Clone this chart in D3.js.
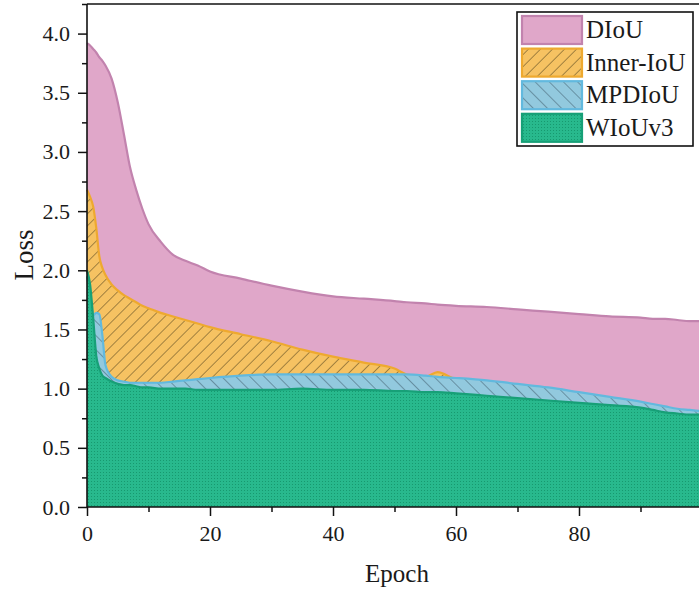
<!DOCTYPE html>
<html><head><meta charset="utf-8">
<script src="https://cdn.jsdelivr.net/npm/d3@7/dist/d3.min.js"></script>
<style>body{margin:0;background:#fff}svg{display:block}</style>
</head><body>
<svg id="c" width="699" height="592"></svg>
<script>
const epochs = [0,0.5,1,1.5,2,2.5,3,4,5,6,7,8,9,10,12,14,16,18,20,25,30,35,40,45,50,52,55,57,60,65,70,75,80,85,90,92,94,96,98,100];
const diou   = [3.92,3.90,3.87,3.84,3.80,3.77,3.73,3.62,3.42,3.15,2.87,2.68,2.52,2.39,2.24,2.13,2.08,2.04,1.99,1.93,1.87,1.82,1.78,1.76,1.74,1.73,1.72,1.71,1.70,1.69,1.67,1.65,1.63,1.61,1.60,1.59,1.59,1.58,1.57,1.57];
const inner  = [2.68,2.62,2.54,2.36,2.12,2.02,1.96,1.88,1.83,1.79,1.76,1.73,1.70,1.68,1.64,1.61,1.58,1.55,1.52,1.46,1.40,1.33,1.27,1.22,1.17,1.12,1.10,1.14,1.08,1.06,1.03,1.00,0.96,0.92,0.88,0.86,0.84,0.82,0.81,0.80];
const mpdiou = [1.95,1.80,1.62,1.64,1.63,1.45,1.20,1.10,1.07,1.06,1.05,1.05,1.05,1.05,1.05,1.06,1.07,1.08,1.09,1.11,1.12,1.12,1.12,1.12,1.12,1.12,1.11,1.10,1.09,1.07,1.04,1.01,0.97,0.93,0.89,0.87,0.85,0.83,0.82,0.81];
const wiou   = [2.00,1.88,1.60,1.28,1.17,1.11,1.09,1.06,1.04,1.03,1.03,1.02,1.01,1.01,1.00,1.00,1.00,0.99,0.99,0.99,0.99,1.00,0.99,0.99,0.98,0.98,0.97,0.97,0.96,0.94,0.92,0.90,0.88,0.86,0.84,0.82,0.80,0.79,0.78,0.78];
const seriesNames = ["DIoU","Inner-IoU","MPDIoU","WIoUv3"];
const xTicks = [0,20,40,60,80];
const xMinorTicks = [10,30,50,70,90];
const yTicks = [0,0.5,1,1.5,2,2.5,3,3.5,4];
const yMinorTicks = [0.25,0.75,1.25,1.75,2.25,2.75,3.25,3.75,4.25];

const svg = d3.select("#c");
const x = d3.scaleLinear().domain([0,100]).range([87,702]);
const y = d3.scaleLinear().domain([0,4.25]).range([507,4]);
const font = "Liberation Serif, Times New Roman, serif";

const defs = svg.append("defs");
const p1 = defs.append("pattern").attr("id","hatchInner").attr("patternUnits","userSpaceOnUse")
  .attr("width",8.5).attr("height",8.5).attr("patternTransform","rotate(45)");
p1.append("rect").attr("width",8.5).attr("height",8.5).attr("fill","#f6c262");
p1.append("line").attr("x1",0).attr("y1",0).attr("x2",0).attr("y2",8.5).attr("stroke","#5e4a22").attr("stroke-width",1.3).attr("stroke-opacity",0.85);
const p2 = defs.append("pattern").attr("id","hatchMpd").attr("patternUnits","userSpaceOnUse")
  .attr("width",10).attr("height",10).attr("patternTransform","rotate(-45)");
p2.append("rect").attr("width",10).attr("height",10).attr("fill","#92c9de");
p2.append("line").attr("x1",0).attr("y1",0).attr("x2",0).attr("y2",10).attr("stroke","#3d5866").attr("stroke-width",1.2).attr("stroke-opacity",0.85);
const p3 = defs.append("pattern").attr("id","dotW").attr("patternUnits","userSpaceOnUse")
  .attr("width",3).attr("height",3);
p3.append("rect").attr("width",3).attr("height",3).attr("fill","#28b98d");
p3.append("rect").attr("x",1).attr("y",1).attr("width",1).attr("height",1).attr("fill","#17996f");

const styles = [
  {name:seriesNames[0], vals:diou,   fill:"#e0a7c9", stroke:"#c283ae"},
  {name:seriesNames[1], vals:inner,  fill:"url(#hatchInner)", stroke:"#eea92f"},
  {name:seriesNames[2], vals:mpdiou, fill:"url(#hatchMpd)", stroke:"#62b9de"},
  {name:seriesNames[3], vals:wiou,   fill:"url(#dotW)", stroke:"#17a077"}
];

const area = d3.area().x(d=>x(d[0])).y0(y(0)).y1(d=>y(d[1])).curve(d3.curveMonotoneX);
const line = d3.line().x(d=>x(d[0])).y(d=>y(d[1])).curve(d3.curveMonotoneX);

styles.forEach(s=>{
  const pts = epochs.map((e,i)=>[e,s.vals[i]]);
  svg.append("path").attr("d",area(pts)).attr("fill",s.fill);
  svg.append("path").attr("d",line(pts)).attr("fill","none").attr("stroke",s.stroke).attr("stroke-width",2.2);
});

const gx = svg.append("g").attr("transform",`translate(0,${y(0)})`)
  .call(d3.axisBottom(x).tickValues(xTicks).tickSize(9).tickPadding(9).tickFormat(d3.format("d")));
const gxm = svg.append("g").attr("transform",`translate(0,${y(0)})`)
  .call(d3.axisBottom(x).tickValues(xMinorTicks).tickSize(5).tickFormat(""));
const gy = svg.append("g").attr("transform",`translate(${x(0)},0)`)
  .call(d3.axisLeft(y).tickValues(yTicks).tickSize(9).tickPadding(8).tickFormat(d3.format(".1f")));
const gym = svg.append("g").attr("transform",`translate(${x(0)},0)`)
  .call(d3.axisLeft(y).tickValues(yMinorTicks).tickSize(5).tickFormat(""));
[gx,gxm,gy,gym].forEach(g=>{
  g.selectAll(".domain").attr("stroke","#111").attr("stroke-width",1.6);
  g.selectAll(".tick line").attr("stroke","#111").attr("stroke-width",1.5);
  g.selectAll("text").attr("font-family",font).attr("font-size",22).attr("fill","#1a1a1a");
});
gy.select(".domain").attr("d",`M0,${y(4.25)}V${y(0)}`);
gx.select(".domain").attr("d",`M${x(0)},0H699`);
gym.select(".domain").remove();
gxm.select(".domain").remove();
svg.append("line").attr("x1",x(0)).attr("x2",699).attr("y1",y(4.25)).attr("y2",y(4.25))
  .attr("stroke","#111").attr("stroke-width",1.6);

svg.append("text").attr("x",397).attr("y",582).attr("text-anchor","middle")
  .attr("font-family",font).attr("font-size",25).attr("fill","#1a1a1a").text("Epoch");
svg.append("text").attr("transform","translate(33,255) rotate(-90)").attr("text-anchor","middle")
  .attr("font-family",font).attr("font-size",27).attr("fill","#1a1a1a").text("Loss");

const lg = svg.append("g");
lg.append("rect").attr("x",517).attr("y",12).attr("width",176).attr("height",134)
  .attr("fill","#fff").attr("stroke","#111").attr("stroke-width",1.6);
styles.forEach((s,i)=>{
  const cy = 30 + i*32.6;
  lg.append("rect").attr("x",522).attr("y",cy-14).attr("width",60).attr("height",28)
    .attr("fill",s.fill).attr("stroke",s.stroke).attr("stroke-width",2.2);
  lg.append("text").attr("x",586).attr("y",cy+8).attr("font-family",font).attr("font-size",25)
    .attr("fill","#1a1a1a").text(s.name);
});
</script>
</body></html>
